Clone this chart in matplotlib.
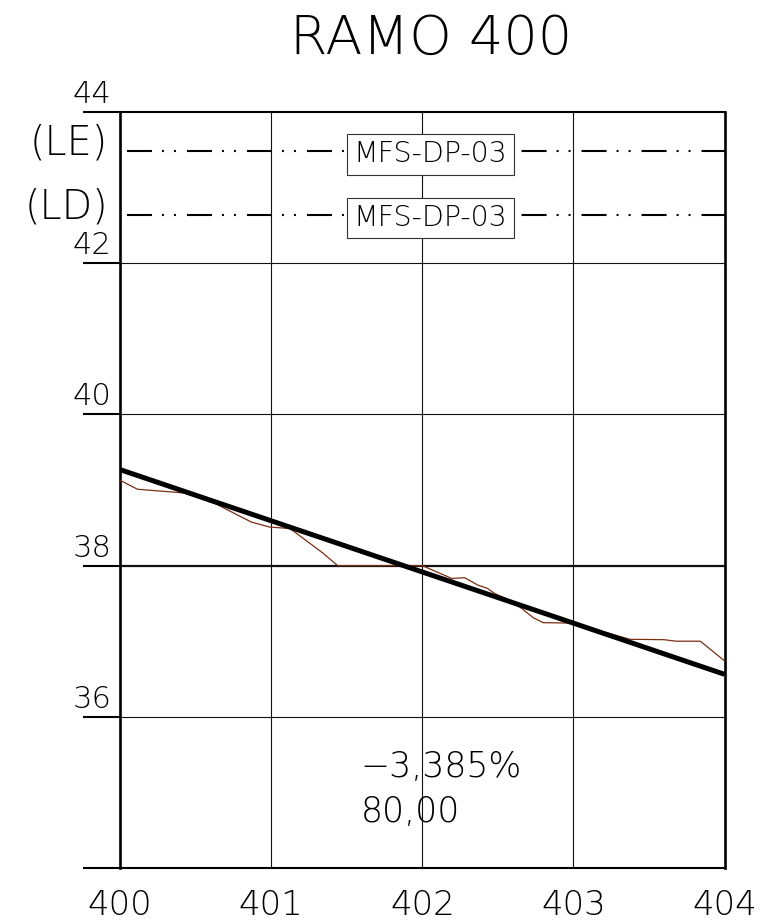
import numpy as np
import matplotlib
matplotlib.use("Agg")
import matplotlib.pyplot as plt
from matplotlib import font_manager

# pick a thin font if one is installed (drawing looks like a CAD stroke font)
light_fam = 'DejaVu Sans'
light_w = 'normal'
for fam in ['DejaVu Sans', 'Lato', 'Roboto', 'Open Sans', 'Noto Sans', 'Inter']:
    ws = [f.weight for f in font_manager.fontManager.ttflist if f.name == fam]
    ws = [w for w in ws if isinstance(w, int) and w <= 300]
    if ws:
        light_fam = fam
        light_w = max(ws)
        break

plt.rcParams['font.family'] = [light_fam, 'DejaVu Sans']
plt.rcParams['font.weight'] = light_w
plt.rcParams['lines.scale_dashes'] = False

# terrain profile (thin brown line)
terrain_x = [400.00, 400.115, 400.43, 400.64, 400.87, 400.99, 401.125, 401.34, 401.44,
             402.00, 402.195, 402.28, 402.37, 402.43, 402.48, 402.56, 402.66, 402.735,
             402.80, 402.98, 403.18, 403.375, 403.60, 403.68, 403.84, 404.00]
terrain_y = [39.13, 39.01, 38.96, 38.81, 38.575, 38.51, 38.49, 38.17, 38.00,
             38.00, 37.83, 37.84, 37.74, 37.70, 37.63, 37.56, 37.43, 37.31,
             37.245, 37.24, 37.135, 37.025, 37.02, 37.00, 37.00, 36.74]

# design grade line (thick black)
grade_x = [400, 404]
grade_y = [39.27, 36.562]
grade_text = "\u22123,385%"
length_text = "80,00"

# reference lines LE / LD
ref_names = ["(LE)", "(LD)"]
ref_levels = [43.48, 42.64]
ref_label = "MFS-DP-03"
ref_label_x = 402.055

x_ticks = [400, 401, 402, 403, 404]
y_ticks = [34, 36, 38, 40, 42, 44]
y_labels = ["", "36", "38", "40", "42", "44"]

fig = plt.figure(figsize=(7.8, 9.22), dpi=100)
ax = fig.add_axes([120 / 780, 1 - 868 / 922, 604.5 / 780, 756 / 922])
ax.set_xlim(400, 404)
ax.set_ylim(34, 44)

# grid
for xv in x_ticks[1:-1]:
    ax.axvline(xv, color='#111111', lw=0.8, zorder=1)
for yv in y_ticks[1:-1]:
    ax.axhline(yv, color='#111111', lw=1.6 if yv == 38 else 0.8, zorder=1)

for s in ['left', 'right']:
    ax.spines[s].set_linewidth(1.9)
for s in ['top', 'bottom']:
    ax.spines[s].set_linewidth(1.5)

ax.set_yticks(y_ticks)
ax.set_yticklabels([])
ax.tick_params(axis='y', direction='out', length=27, width=1.5, color='black')
for yv, lab in zip(y_ticks, y_labels):
    if lab:
        ax.annotate(lab, xy=(0, yv), xycoords=('axes fraction', 'data'),
                    xytext=(-6, 6.5), textcoords='offset points',
                    ha='right', va='baseline', fontsize=22)

ax.set_xticks(x_ticks)
ax.set_xticklabels([str(v) for v in x_ticks], fontsize=24.5)
ax.tick_params(axis='x', length=0, pad=15)

# terrain and grade
ax.plot(terrain_x, terrain_y, color='#7a2e12', lw=0.9, zorder=3)
ax.plot(grade_x, grade_y, color='black', lw=3.6, solid_capstyle='butt', zorder=4)

# dash-dot-dot reference lines, split so the two halves keep their own phase
pattern = (18, 7.2, 1.44, 7.2, 1.44, 7.92)
for name, lvl in zip(ref_names, ref_levels):
    ax.plot([grade_x[0], ref_label_x], [lvl, lvl], color='black', lw=1.5,
            linestyle=(38.2, pattern), zorder=3)
    ax.plot([ref_label_x, grade_x[1]], [lvl, lvl], color='black', lw=1.5,
            linestyle=(21.2, pattern), zorder=3)
    ax.annotate(ref_label, xy=(ref_label_x, lvl), xytext=(0, -8), textcoords='offset points',
                ha='center', va='baseline', fontsize=20.5, zorder=5,
                bbox=dict(boxstyle='square,pad=0.22', fc='white', ec='#333333', lw=0.8))
    ax.annotate(name, xy=(0, lvl), xycoords=('axes fraction', 'data'),
                xytext=(-8.5, -2.5), textcoords='offset points',
                ha='right', va='baseline', fontsize=28.5, annotation_clip=False)

ax.text(401.59, 35.20, grade_text, fontsize=25, ha='left', va='baseline')
ax.text(401.59, 34.61, length_text, fontsize=25, ha='left', va='baseline')

fig.text(431.5 / 780, 1 - 54 / 922, "RAMO 400", fontsize=39, ha='center', va='baseline')

fig.savefig("out.png", dpi=100, facecolor='white')
